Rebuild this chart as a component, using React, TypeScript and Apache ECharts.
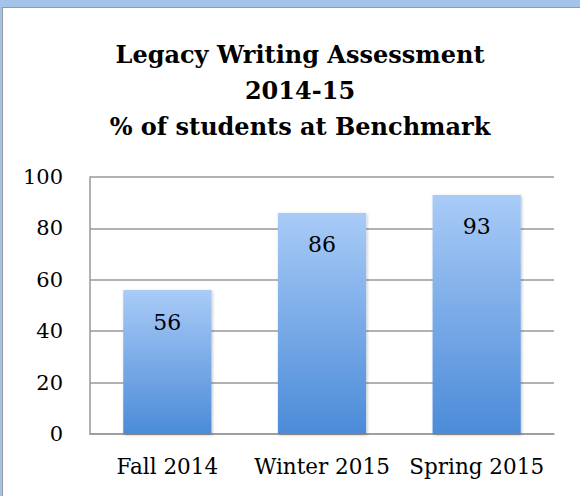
import React, { useEffect, useRef } from "react";
import * as echarts from "echarts";

const titleLines = ["Legacy Writing Assessment", "2014-15", "% of students at Benchmark"];
const categories = ["Fall 2014", "Winter 2015", "Spring 2015"];
const values = [56, 86, 93];
const yTicks = { min: 0, max: 100, interval: 20 };

export default function App() {
  const ref = useRef<HTMLDivElement>(null);
  useEffect(() => {
    document.body.style.margin = "0";
    const chart = echarts.init(ref.current!, null, { renderer: "svg" });
    const font = "DejaVu Serif";
    chart.setOption({
      animation: false,
      backgroundColor: "#ffffff",
      title: {
        text: titleLines.join("\n"),
        left: 295,
        textAlign: "center",
        top: 31,
        textStyle: {
          fontFamily: font,
          fontWeight: "bold",
          fontSize: 24,
          lineHeight: 36,
          color: "#000",
        },
      },
      graphic: [
        { type: "rect", shape: { x: 0, y: 0, width: 580, height: 7 }, style: { fill: "#a3c3eb" }, silent: true },
        { type: "rect", shape: { x: 0, y: 0, width: 2, height: 496 }, style: { fill: "#a3c3eb" }, silent: true },
        { type: "line", shape: { x1: 2, y1: 7.5, x2: 580, y2: 7.5 }, style: { stroke: "#999", lineWidth: 1 }, silent: true },
        { type: "line", shape: { x1: 2.5, y1: 7, x2: 2.5, y2: 496 }, style: { stroke: "#999", lineWidth: 1 }, silent: true },
      ],
      grid: { left: 90, right: 26, top: 177, bottom: 62, containLabel: false },
      xAxis: {
        type: "category",
        data: categories,
        axisLine: { show: true, lineStyle: { color: "#999", width: 1.5 } },
        axisTick: { show: false },
        axisLabel: { interval: 0, hideOverlap: false, fontFamily: font, fontSize: 21.5, color: "#000", margin: 21 },
      },
      yAxis: {
        type: "value",
        min: yTicks.min,
        max: yTicks.max,
        interval: yTicks.interval,
        axisLine: { show: true, lineStyle: { color: "#999", width: 1.5 } },
        axisTick: { show: false },
        splitLine: { lineStyle: { color: "#999", width: 1.5 } },
        axisLabel: { fontFamily: font, fontSize: 21, color: "#000", margin: 27 },
      },
      series: [
        {
          type: "bar",
          data: values,
          barWidth: "57%",
          itemStyle: {
            color: new echarts.graphic.LinearGradient(0, 0, 0, 1, [
              { offset: 0, color: "#a9cbf7" },
              { offset: 1, color: "#4b8bd8" },
            ]),
            shadowColor: "rgba(0,0,0,0.25)",
            shadowBlur: 3,
            shadowOffsetX: 1,
            shadowOffsetY: 1,
          },
          label: {
            show: true,
            position: "insideTop",
            distance: 21,
            fontFamily: font,
            fontSize: 22,
            color: "#000",
          },
        },
      ],
    });
    return () => chart.dispose();
  }, []);
  return <div ref={ref} style={{ width: 580, height: 496 }} />;
}
